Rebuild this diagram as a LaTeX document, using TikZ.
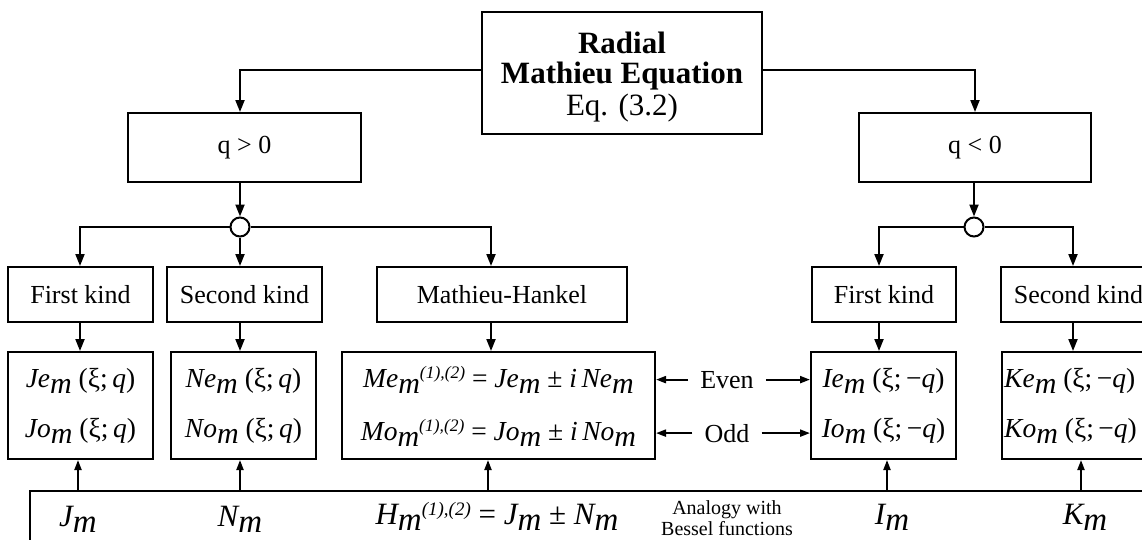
\documentclass[tikz,border=0pt]{standalone}
\usepackage{fontspec}
\setmainfont{Liberation Serif}
\usetikzlibrary{arrows.meta}
\newcommand{\fs}[1]{\fontsize{#1}{#1}\selectfont}
\newcommand{\subm}[1][30]{\raisebox{-6pt}{\fontsize{#1}{#1}\selectfont\itshape m}}
\newcommand{\supp}[1][17.5]{\raisebox{9pt}{\fontsize{#1}{#1}\selectfont\itshape (1),(2)}}
\begin{document}
\begin{tikzpicture}[x=1pt,y=-1pt,
  box/.style={draw, line width=2pt, inner sep=0pt, font=\fs{26}},
  ln/.style={line width=2pt},
  arr/.style={ln, -{Triangle[length=12pt,width=9pt]}},
  arrs/.style={ln, -{Triangle[length=10pt,width=7pt]}},
  junc/.style={circle, draw, line width=2pt, fill=white, minimum size=19pt, inner sep=0pt},
  t3/.style={anchor=base, inner sep=0pt, font=\fs{27.5}},
  tb/.style={anchor=base, inner sep=0pt, font=\fs{31}},
  lbl/.style={anchor=base, inner sep=0pt, inner xsep=12pt, font=\fs{26}}]
\useasboundingbox (0,0) rectangle (1142,539);
\clip (0,0) rectangle (1142,539);

% column coordinates for arrows
\coordinate (a1) at (80,0);
\coordinate (a2) at (240,0);
\coordinate (a3) at (491,0);
\coordinate (a4) at (879,0);
\coordinate (a5) at (1073,0);
\coordinate (b1) at (78,0);
\coordinate (b2) at (240,0);
\coordinate (b3) at (488,0);
\coordinate (b4) at (887,0);
\coordinate (b5) at (1081,0);

% top box
\node[box, minimum width=280pt, minimum height=122pt] (top) at (622,73) {};
\node[anchor=base, inner sep=0pt, font=\fs{31}\bfseries] (tt1) at (622,53) {Radial};
\node[anchor=base, inner sep=0pt, font=\fs{31}\bfseries] (tt2) at (622,83) {Mathieu Equation};
\node[anchor=base, inner sep=0pt, font=\fs{31}] (tt3) at (622,115) {Eq. (3.2)};

% q boxes
\node[box, minimum width=233pt, minimum height=69pt] (qp) at (244.5,147.5) {q > 0};
\node[box, minimum width=232pt, minimum height=69pt] (qn) at (975,147.5) {q < 0};

% junctions
\node[junc] (cL) at (240,227) {};
\node[junc] (cR) at (974,227) {};

% row 2
\node[box, minimum width=145pt, minimum height=55pt] (fk1) at (80.5,294.5) {First kind};
\node[box, minimum width=155pt, minimum height=55pt] (sk1) at (244.5,294.5) {Second kind};
\node[box, minimum width=250pt, minimum height=55pt] (mh) at (502,294.5) {Mathieu-Hankel};
\node[box, minimum width=144pt, minimum height=55pt] (fk2) at (884,294.5) {First kind};
\node[box, minimum width=155pt, minimum height=55pt] (sk2) at (1078.5,294.5) {Second kind};

% row 3 boxes
\node[box, minimum width=145pt, minimum height=107pt] (je) at (80.5,405.5) {};
\node[box, minimum width=145pt, minimum height=107pt] (ne) at (243.5,405.5) {};
\node[box, minimum width=313pt, minimum height=107pt] (me) at (498.5,405.5) {};
\node[box, minimum width=145pt, minimum height=107pt] (ie) at (883.5,405.5) {};
\node[box, minimum width=150pt, minimum height=107pt] (ke) at (1077,405.5) {};

% row 3 texts
\node[t3] (je1) at (80.5,387) {{\itshape Je}\subm\ (ξ;\,{\itshape q})};
\node[t3] (je2) at (80.5,437) {{\itshape Jo}\subm\ (ξ;\,{\itshape q})};
\node[t3] (ne1) at (243.5,387) {{\itshape Ne}\subm\ (ξ;\,{\itshape q})};
\node[t3] (ne2) at (243.5,437) {{\itshape No}\subm\ (ξ;\,{\itshape q})};
\node[t3] (me1) at (498.5,387) {{\itshape Me}\subm\supp\ = {\itshape Je}\subm\ ± {\itshape i}\,{\itshape Ne}\subm};
\node[t3] (me2) at (498.5,440) {{\itshape Mo}\subm\supp\ = {\itshape Jo}\subm\ ± {\itshape i}\,{\itshape No}\subm};
\node[t3] (ie1) at (883.5,387) {{\itshape Ie}\subm\ (ξ;\,−{\itshape q})};
\node[t3] (ie2) at (883.5,437) {{\itshape Io}\subm\ (ξ;\,−{\itshape q})};
\node[t3, anchor=base west] (ke1) at (1004,387) {{\itshape Ke}\subm\ (ξ;\,−{\itshape q})};
\node[t3, anchor=base west] (ke2) at (1004,437) {{\itshape Ko}\subm\ (ξ;\,−{\itshape q})};

% Even / Odd
\node[lbl] (ev) at (727,388) {Even};
\node[lbl] (od) at (727,442) {Odd};
\draw[arrs] (ev.west) -- (ev.west -| me.east);
\draw[arrs] (ev.east) -- (ev.east -| ie.west);
\draw[arrs] (od.west) -- (od.west -| me.east);
\draw[arrs] (od.east) -- (od.east -| ie.west);

% bottom box (Bessel analogy)
\coordinate (bl) at (30,491);
\draw[ln] (30,560) -- (bl) -- (1170,491);
\node[tb] (bJ) at (78,526) {{\itshape J}\subm[33]};
\node[tb] (bN) at (240,526) {{\itshape N}\subm[33]};
\node[tb] (bH) at (497,524) {{\itshape H}\subm[33]\supp[19]\ = {\itshape J}\subm[33]\ ± {\itshape N}\subm[33]};
\node[anchor=base, inner sep=0pt, font=\fs{20}] (an1) at (727,514) {Analogy with};
\node[anchor=base, inner sep=0pt, font=\fs{20}] (an2) at (727,535) {Bessel functions};
\node[tb] (bI) at (892,524) {{\itshape I}\subm[33]};
\node[tb] (bK) at (1085,524) {{\itshape K}\subm[33]};

% connectors from top
\draw[arr] (top.west |- 0,70) -| (a2 |- qp.north);
\draw[arr] (top.east |- 0,70) -| (qn.north);
\draw[arr] (a2 |- qp.south) -- (cL.north);
\draw[arr] (cR |- qn.south) -- (cR.north);

% junction fan-out
\draw[arr] (cL.west) -| (a1 |- fk1.north);
\draw[arr] (cL.south) -- (a2 |- sk1.north);
\draw[arr] (cL.east) -| (a3 |- mh.north);
\draw[arr] (cR.west) -| (a4 |- fk2.north);
\draw[arr] (cR.east) -| (a5 |- sk2.north);

% row 2 -> row 3
\draw[arr] (a1 |- fk1.south) -- (a1 |- je.north);
\draw[arr] (a2 |- sk1.south) -- (a2 |- ne.north);
\draw[arr] (a3 |- mh.south) -- (a3 |- me.north);
\draw[arr] (a4 |- fk2.south) -- (a4 |- ie.north);
\draw[arr] (a5 |- sk2.south) -- (a5 |- ke.north);

% bottom -> row 3
\draw[arrs] (b1 |- bl) -- (b1 |- je.south);
\draw[arrs] (b2 |- bl) -- (b2 |- ne.south);
\draw[arrs] (b3 |- bl) -- (b3 |- me.south);
\draw[arrs] (b4 |- bl) -- (b4 |- ie.south);
\draw[arrs] (b5 |- bl) -- (b5 |- ke.south);
\end{tikzpicture}
\end{document}
